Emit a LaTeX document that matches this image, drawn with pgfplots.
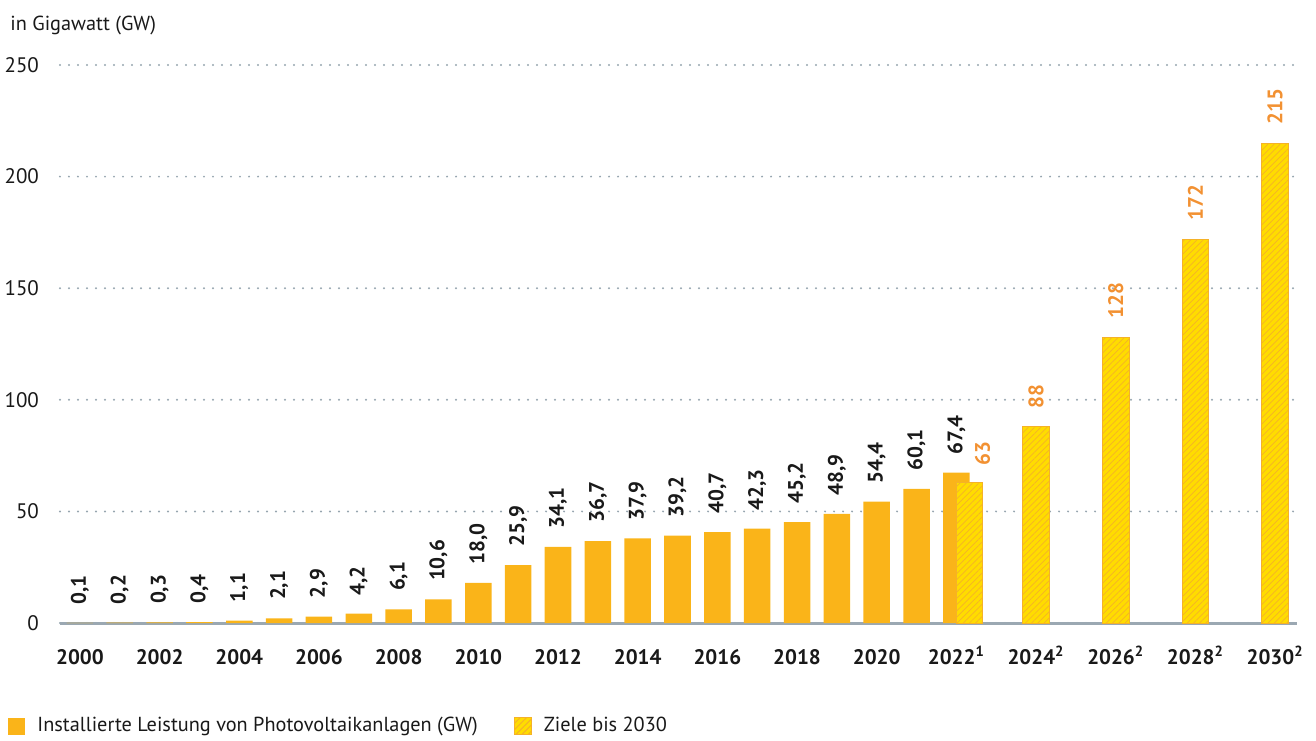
\documentclass[border=0pt]{standalone}
\usepackage{pgfplots}
\pgfplotsset{compat=1.18}
\usepackage{fontspec}
\setmainfont{PT Sans}
\usetikzlibrary{patterns.meta}

\definecolor{pvbar}{RGB}{250,180,25}
\definecolor{tgfill}{RGB}{255,220,0}
\definecolor{tghatch}{RGB}{245,178,40}
\definecolor{tglabel}{RGB}{242,145,50}
\definecolor{gridc}{RGB}{150,165,175}
\definecolor{zeroc}{RGB}{155,168,178}
\definecolor{txt}{RGB}{25,25,25}

\begin{document}
\begin{tikzpicture}[font=\fontsize{10.5}{12}\selectfont, text=txt]
\begin{axis}[
  scale only axis, width=618.5pt, height=279pt,
  xmin=-0.5, xmax=30.55, ymin=0, ymax=250,
  axis x line=bottom, axis y line=left,
  x axis line style={draw=zeroc, line width=1.5pt, -},
  y axis line style={draw=none},
  major tick length=0pt,
  ytick={0,50,100,150,200,250},
  ymajorgrids,
  grid style={gridc, line width=1.1pt, dash pattern=on 0pt off 4.5pt, line cap=round},
  xtick={0,2,...,30},
  xticklabels={2000,2002,2004,2006,2008,2010,2012,2014,2016,2018,2020,2022\textsuperscript{1},2024\textsuperscript{2},2026\textsuperscript{2},2028\textsuperscript{2},2030\textsuperscript{2}},
  xticklabel style={font=\fontsize{10.5}{12}\selectfont\bfseries, text height=8pt, yshift=-9pt},
  yticklabel style={xshift=-7pt},
  /pgf/number format/assume math mode=true,
  title={in Gigawatt (GW)},
  title style={at={(axis description cs:0,1)}, anchor=base west, xshift=-25pt, yshift=11pt, inner sep=0pt, font=\fontsize{10.15}{12}\selectfont},
  legend style={draw=none, fill=none, legend columns=2, at={(axis description cs:0,0)}, anchor=north west, xshift=-29pt, yshift=-43pt,
    font=\fontsize{10.15}{12}\selectfont, /tikz/every even column/.append style={column sep=16pt}},
  legend cell align=left,
]
\addplot[ybar, bar width=0.666, bar shift=0pt, fill=pvbar, draw=none,
  legend image code/.code={\fill[pvbar] (0pt,-4.25pt) rectangle (8.5pt,4.25pt); \path (0pt,0pt) (12.5pt,0pt);},
  nodes near coords,
  nodes near coords style={rotate=90, anchor=west, inner xsep=9pt, font=\fontsize{10.5}{12}\selectfont\bfseries, text=txt,
    /pgf/number format/.cd, fixed, fixed zerofill, precision=1, use comma, assume math mode=true}]
coordinates {
(0,0.1) (1,0.2) (2,0.3) (3,0.4) (4,1.1) (5,2.1) (6,2.9) (7,4.2) (8,6.1) (9,10.6)
(10,18.0) (11,25.9) (12,34.1) (13,36.7) (14,37.9) (15,39.2) (16,40.7) (17,42.3)
(18,45.2) (19,48.9) (20,54.4) (21,60.1) (22,67.4)
};
\addlegendentry{Installierte Leistung von Photovoltaikanlagen (GW)}
\addplot[ybar, bar width=0.666, bar shift=0pt, fill=tgfill, draw=tghatch, line width=0.5pt,
  postaction={pattern={Lines[angle=45,distance=2.2pt,line width=0.35pt]}, pattern color=tghatch},
  legend image code/.code={\draw[draw=tghatch, line width=0.5pt, fill=tgfill, postaction={pattern={Lines[angle=45,distance=2.2pt,line width=0.35pt]}, pattern color=tghatch}] (0pt,-4.25pt) rectangle (8.5pt,4.25pt); \path (0pt,0pt) (12.5pt,0pt);},
  nodes near coords,
  nodes near coords style={rotate=90, anchor=west, inner xsep=9pt, font=\fontsize{10.5}{12}\selectfont\bfseries, text=tglabel,
    /pgf/number format/.cd, fixed, precision=0, assume math mode=true}]
coordinates {
(24,88) (26,128) (28,172) (30,215)
};
\addlegendentry{Ziele bis 2030}
\addplot[forget plot, ybar, bar width=0.666, bar shift=0pt, fill=tgfill, draw=tghatch, line width=0.5pt,
  postaction={pattern={Lines[angle=45,distance=2.2pt,line width=0.35pt]}, pattern color=tghatch},
  nodes near coords,
  nodes near coords style={xshift=6.5pt, rotate=90, anchor=west, inner xsep=8pt, font=\fontsize{10.5}{12}\selectfont\bfseries, text=tglabel,
    /pgf/number format/.cd, fixed, precision=0, assume math mode=true}]
coordinates {
(22.33,63)
};
\end{axis}
\pgfresetboundingbox
\path (current axis.south west) ++(-30pt,-58.5pt) rectangle ++(658pt,370pt);
\end{tikzpicture}
\end{document}
